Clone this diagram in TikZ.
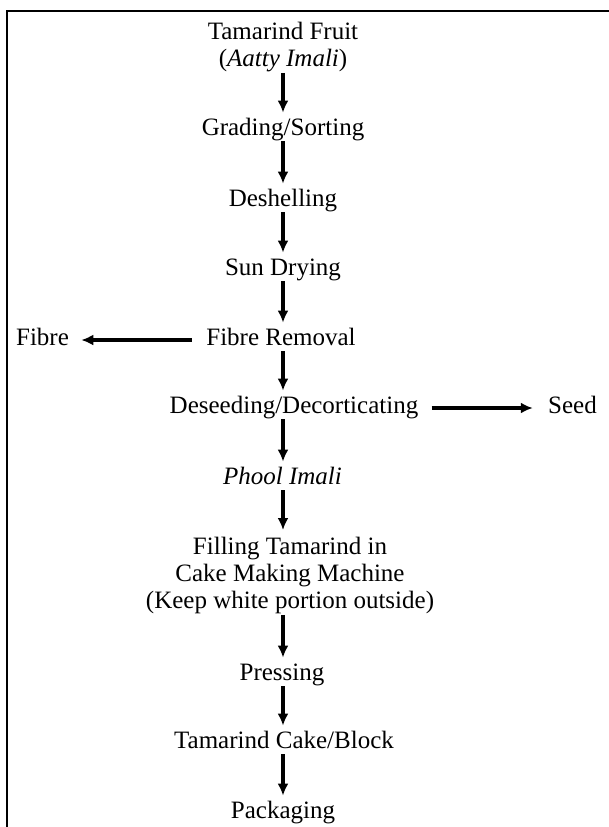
\documentclass[tikz,border=0pt]{standalone}
\usepackage{fontspec}
\setmainfont{Liberation Serif}
\usetikzlibrary{arrows.meta}

\tikzset{
  stage/.style={inner xsep=0pt, inner ysep=0.5pt, text height=0.75em, text depth=0.25em, anchor=base},
  stagemulti/.style={align=center, inner xsep=0pt, inner ysep=0.5pt, text depth=0.25em, anchor=north},
  flow/.style={-{Latex[length=6pt,width=5.5pt]}, line width=1.6pt},
}

\begin{document}
\begin{tikzpicture}
  [x=0.5pt, y=-0.5pt, font=\fontsize{12.5pt}{13.4pt}\selectfont]
  \useasboundingbox (0,0) rectangle (609,827);
  \draw[line width=1pt] (7,827) -- (7,11) -- (609,11);
  \coordinate (spine) at (283,0);

  \node[stagemulti] (fruit) at (283,21) {Tamarind Fruit\\(\textit{Aatty Imali})};
  \node[stage] (grade)    at (283,135) {Grading/Sorting};
  \node[stage] (deshell)  at (283,206) {Deshelling};
  \node[stage] (sundry)   at (283,275) {Sun Drying};
  \node[stage] (fibrerem) at (281,345) {Fibre Removal};
  \node[stage] (fibre)    at (42.5,345) {Fibre};
  \node[stage] (deseed)   at (294,413) {Deseeding/Decorticating};
  \node[stage] (seed)     at (572.5,413) {Seed};
  \node[stage] (phool)    at (282.5,484) {\textit{Phool Imali}};
  \node[stagemulti] (filling) at (290,536) {Filling Tamarind in\\Cake Making Machine\\(Keep white portion outside)};
  \node[stage] (press)    at (282,680) {Pressing};
  \node[stage] (cake)     at (284,748) {Tamarind Cake/Block};
  \node[stage] (pack)     at (283,818) {Packaging};

  \foreach \a/\b in {fruit/grade, grade/deshell, deshell/sundry, sundry/fibrerem,
    fibrerem/deseed, deseed/phool, phool/filling, filling/press, press/cake, cake/pack}
    \draw[flow, shorten >=3pt] (\a.south -| spine) -- (\b.north -| spine);

  \draw[flow, shorten <=7pt, shorten >=6pt] (fibrerem.west) -- (fibre.east);
  \draw[flow, shorten <=6.5pt, shorten >=7.5pt] (deseed.east) -- (seed.west);
\end{tikzpicture}
\end{document}
